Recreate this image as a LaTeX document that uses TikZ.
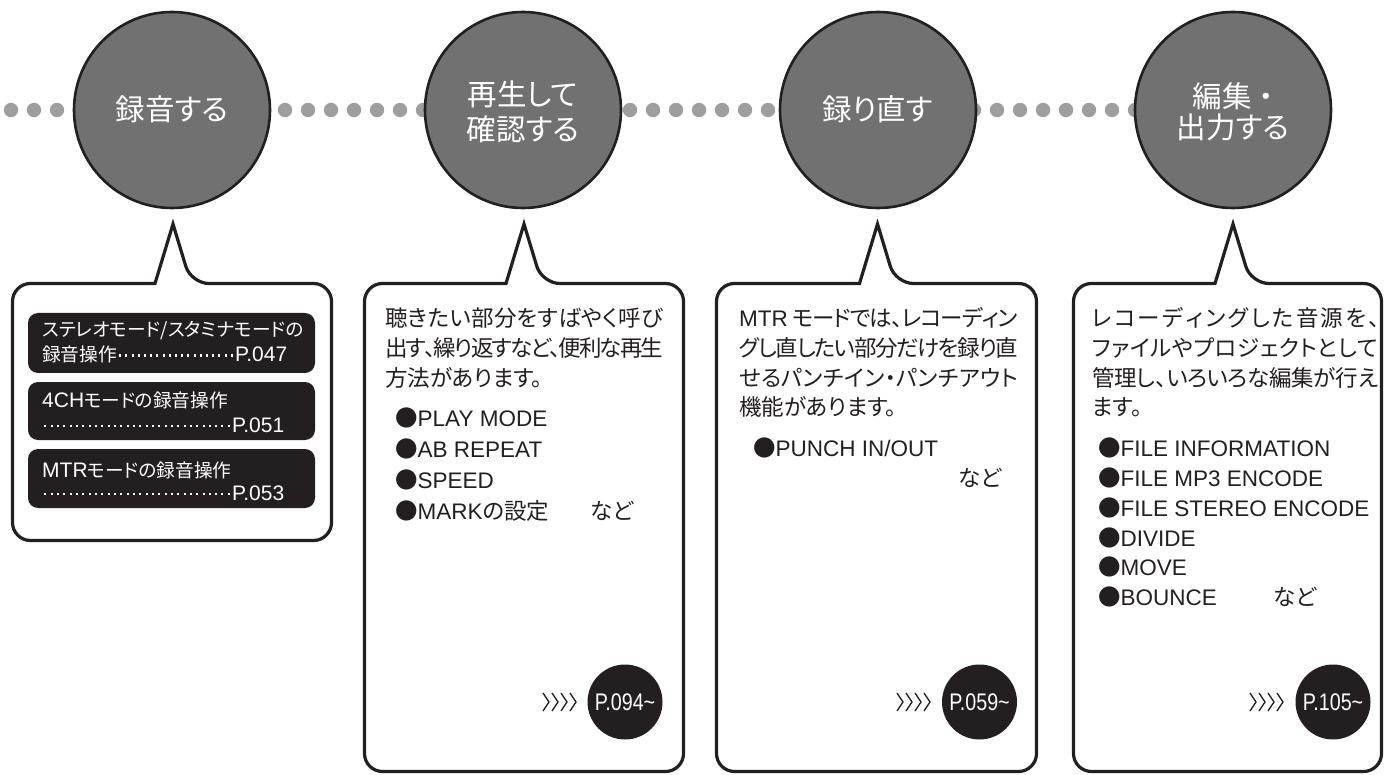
\documentclass[tikz,border=0pt]{standalone}
\usepackage{fontspec}
\usepackage{graphicx}
\setmainfont{Liberation Sans}
\newfontfamily\jp{Noto Sans CJK JP}[RawFeature=+palt]
\newfontfamily\jpf{Noto Sans CJK JP}
\newfontfamily\lat{Liberation Sans}
\definecolor{stagefill}{HTML}{717171}
\definecolor{ink}{HTML}{231F20}
\definecolor{dotgray}{HTML}{9E9E9E}
\makeatletter
\def\spr@end{\spr@end@marker}
\def\spr@A#1{{#1}\spr@B}
\def\spr@B#1{\ifx\spr@end#1\else\hskip 0pt plus 1fil minus 4pt {#1}\expandafter\spr@B\fi}
\newcommand\jline[2]{\hbox to #1{\spr@A#2\spr@end}}
\newcommand\dotlead{\xleaders\hbox to 6.2pt{\hss\rule[5.5pt]{2pt}{2pt}\hss}\hfill}
\newcommand\reflat[1]{{\fontsize{21}{24}\selectfont\lat #1}}
\makeatother
\begin{document}
\begin{tikzpicture}[x=1pt,y=-1pt,
  stage/.style={circle, fill=stagefill, draw=ink, line width=2.6pt, minimum size=196pt, inner sep=0pt},
  stagelabel/.style={anchor=base, inner sep=0pt, text=white, font=\fontsize{29.5}{34}\selectfont\jp},
  chaindot/.style={fill=dotgray},
  callout/.style={draw=ink, line width=3.2pt, line join=miter, fill=white},
  refbox/.style={fill=ink, rounded corners=10pt},
  reftext/.style={anchor=base west, inner sep=0pt, text=white, font=\fontsize{18.7}{24}\selectfont\jp},
  body/.style={anchor=base west, inner sep=0pt, text=ink, font=\fontsize{22.5}{27}\selectfont\jp},
  pagec/.style={circle, fill=ink, minimum size=75pt, inner sep=0pt, text=white, font=\fontsize{24}{24}\selectfont\lat},
  chev/.style={draw=ink, line width=1.3pt}
]
\useasboundingbox (0,0) rectangle (1389,775);

% chain of dots
\foreach \x in {11,34,57} \fill[chaindot] (\x,110) circle (7.2);
\foreach \x in {285,308,...,423} \fill[chaindot] (\x,110) circle (7.2);
\foreach \x in {607,630,...,768} \fill[chaindot] (\x,110) circle (7.2);
\foreach \x in {974,997,...,1135} \fill[chaindot] (\x,110) circle (7.2);

% stage circles
\node[stage] (s1) at (172,110) {};
\node[stage] (s2) at (523,110) {};
\node[stage] (s3) at (878,110) {};
\node[stage] (s4) at (1233,110) {};
\node[stagelabel] (t1) at (172,121) {録音する};
\node[stagelabel] (t2a) at (523,106) {再生して};
\node[stagelabel] (t2b) at (523,141) {確認する};
\node[stagelabel] (t3) at (878,121) {録り直す};
\node[stagelabel] (t4a) at (1237,108) {{\jpf 編集・}};
\node[stagelabel] (t4b) at (1233,139) {出力する};

% callouts
\draw[callout] (120,283.5) [rounded corners=18pt] -- (12.5,283.5) -- (12.5,540.5) -- (331.5,540.5) -- (331.5,283.5) -- (191,283.5) [sharp corners] -- (173,224) -- (155,283.5) -- cycle;
\draw[callout] (450,283.5) [rounded corners=18pt] -- (364.5,283.5) -- (364.5,771.5) -- (683.5,771.5) -- (683.5,283.5) -- (542,283.5) [sharp corners] -- (524,224) -- (506,283.5) -- cycle;
\draw[callout] (800,283.5) [rounded corners=18pt] -- (716.5,283.5) -- (716.5,771.5) -- (1036.5,771.5) -- (1036.5,283.5) -- (895.5,283.5) [sharp corners] -- (877.5,224) -- (859.5,283.5) -- cycle;
\draw[callout] (1150,283.5) [rounded corners=18pt] -- (1073.5,283.5) -- (1073.5,771.5) -- (1381.5,771.5) -- (1381.5,283.5) -- (1251,283.5) [sharp corners] -- (1233,224) -- (1215,283.5) -- cycle;

% box 1 references
\fill[refbox] (28,313) rectangle (315,373);
\fill[refbox] (28,382) rectangle (315,440);
\fill[refbox] (28,449) rectangle (315,508);
\node[reftext] (r1a) at (42,337) {ステレオモード/スタミナモードの};
\node[reftext] (r1b) at (42,362) {\hbox to 245pt{録音操作\dotlead\reflat{P.047}}};
\node[reftext] (r2a) at (42,407) {\reflat{4CH}モードの録音操作};
\node[reftext] (r2b) at (42,432) {\hbox to 242pt{\dotlead\reflat{P.051}}};
\node[reftext] (r3a) at (42,477) {\reflat{MTR}モードの録音操作};
\node[reftext] (r3b) at (42,500) {\hbox to 242pt{\dotlead\reflat{P.053}}};

% box 2
\node[body] (b2a) at (385,326.5) {\jline{278pt}{聴きたい部分をすばやく呼び}};
\node[body] (b2b) at (385,356.5) {\jline{278pt}{出す、繰り返すなど、便利な再生}};
\node[body] (b2c) at (385,386.5) {方法があります。};
\node[body] (b2d) at (395,426.5) {●{\lat PLAY MODE}};
\node[body] (b2e) at (395,457.5) {●{\lat AB REPEAT}};
\node[body] (b2f) at (395,488.5) {●{\lat SPEED}};
\node[body] (b2g) at (395,519.5) {●{\lat MARK}の設定};
\node[body] (b2h) at (590,519.5) {など};

% box 3
\node[body] (b3a) at (739,326.5) {\jline{279pt}{{\lat MTR\kern5pt}モードでは、レコーディン}};
\node[body] (b3b) at (739,356.5) {\jline{279pt}{グし直したい部分だけを録り直}};
\node[body] (b3c) at (739,386.5) {\jline{279pt}{せるパンチイン・パンチアウト}};
\node[body] (b3d) at (739,415.5) {機能があります。};
\node[body] (b3e) at (753,456.5) {●{\lat PUNCH IN/OUT}};
\node[body] (b3f) at (958,486.5) {など};

% box 4
\node[body] (b4a) at (1092,326.5) {\jline{288pt}{レコーディングした音源を、}};
\node[body] (b4b) at (1092,356.5) {\jline{286pt}{ファイルやプロジェクトとして}};
\node[body] (b4c) at (1092,386.5) {\jline{286pt}{管理し、いろいろな編集が行え}};
\node[body] (b4d) at (1092,415.5) {ます。};
\node[body] (b4e) at (1098,456.5) {●{\lat FILE INFORMATION}};
\node[body] (b4f) at (1098,486.5) {●{\lat FILE MP3 ENCODE}};
\node[body] (b4g) at (1098,516.5) {●{\lat FILE STEREO ENCODE}};
\node[body] (b4h) at (1098,546.5) {●{\lat DIVIDE}};
\node[body] (b4i) at (1098,575.5) {●{\lat MOVE}};
\node[body] (b4j) at (1098,605.5) {●{\lat BOUNCE}};
\node[body] (b4k) at (1273,605.5) {など};

% page references
\node[pagec] (p2) at (625,702) {\scalebox{0.82}[1]{P.094\textasciitilde}};
\node[pagec] (p3) at (979.5,702) {\scalebox{0.82}[1]{P.059\textasciitilde}};
\node[pagec] (p4) at (1333,702) {\scalebox{0.82}[1]{P.105\textasciitilde}};
\foreach \i in {0,1,2,3} {
  \draw[chev] ({543+9*\i},693) -- ({549+9*\i},702) -- ({543+9*\i},711);
  \draw[chev] ({897+9*\i},693) -- ({903+9*\i},702) -- ({897+9*\i},711);
  \draw[chev] ({1250+9*\i},693) -- ({1256+9*\i},702) -- ({1250+9*\i},711);
}
\end{tikzpicture}
\end{document}
